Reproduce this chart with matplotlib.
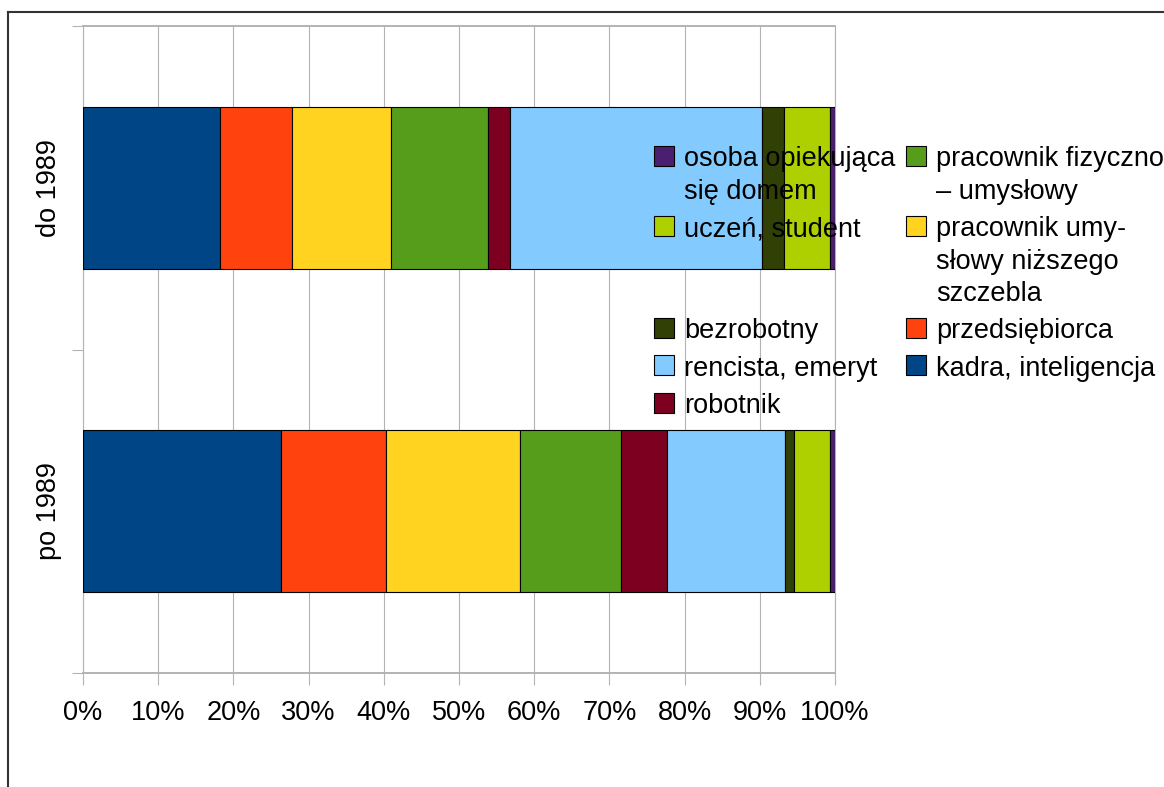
import matplotlib
matplotlib.use("Agg")
import matplotlib.pyplot as plt
from matplotlib.patches import Rectangle
from matplotlib.lines import Line2D
import numpy as np

plt.rcParams['font.family'] = ['Liberation Sans', 'DejaVu Sans']

# Respondent groups (bars) and occupational categories (stacked segments, in %)
groups = ["do 1989", "po 1989"]
series = [
    "kadra, inteligencja",
    "przedsiębiorca",
    "pracownik umy-\nsłowy niższego\nszczebla",
    "pracownik fizyczno\n– umysłowy",
    "robotnik",
    "rencista, emeryt",
    "bezrobotny",
    "uczeń, student",
    "osoba opiekująca\nsię domem",
]
values_do_1989 = [18.2, 9.6, 13.1, 13.0, 2.9, 33.5, 2.9, 6.2, 0.6]
values_po_1989 = [26.3, 14.0, 17.8, 13.4, 6.2, 15.6, 1.2, 4.9, 0.6]
colors = ["#004586", "#ff420e", "#ffd320", "#579d1c", "#7e0021",
          "#83caff", "#314004", "#aecf00", "#4b1f6f"]
x_ticks = np.arange(0, 101, 10)
x_tick_labels = [f"{t}%" for t in x_ticks]

W, H = 1164, 787
FS = 19.5
fig = plt.figure(figsize=(W / 100, H / 100), dpi=100)
fig.patch.set_facecolor("white")

ax = fig.add_axes([83 / W, (H - 673) / H, (835 - 83) / W, (673 - 26) / H])

data = np.array([values_do_1989, values_po_1989])
data = data / data.sum(axis=1, keepdims=True) * 100
ypos = np.arange(len(groups))
left = np.zeros(len(groups))
for i, (name, col) in enumerate(zip(series, colors)):
    ax.barh(ypos, data[:, i], left=left, height=0.5, color=col,
            edgecolor="black", linewidth=0.8, zorder=3)
    left += data[:, i]

grid_col = "#b3b3b3"
ax.set_xlim(0, 100)
ax.set_ylim(1.5, -0.5)
ax.set_xticks(x_ticks)
ax.set_xticklabels(x_tick_labels, fontsize=FS)
ax.xaxis.grid(True, color=grid_col, linewidth=0.8, zorder=0)
ax.tick_params(axis="x", length=8.6, width=0.8, color=grid_col, pad=11)

# category boundaries carry the ticks, centres carry the labels
ax.set_yticks([-0.5, 0.5, 1.5])
ax.set_yticklabels([])
ax.set_yticks(ypos, minor=True)
ax.set_yticklabels(groups, minor=True, rotation=90, va="center", fontsize=FS)
ax.tick_params(axis="y", which="major", length=8, width=0.8, color=grid_col)
ax.tick_params(axis="y", which="minor", length=0, pad=15)

ax.spines["left"].set_color(grid_col)
ax.spines["left"].set_linewidth(0.8)
for side in ["top", "bottom"]:
    ax.spines[side].set_color(grid_col)
    ax.spines[side].set_linewidth(1.4)
ax.spines["right"].set_color(grid_col)
ax.spines["right"].set_linewidth(0.8)
ax.set_axisbelow(True)

# page frame
fx = lambda px: px / W
fy = lambda py: 1 - py / H
fig.add_artist(Line2D([fx(8), fx(W)], [fy(12), fy(12)], color="#333333", lw=1.5))
fig.add_artist(Line2D([fx(8), fx(8)], [fy(12), fy(H)], color="#333333", lw=1.5))

# legend: reverse stacking order, filled down the columns, rows aligned
legend_order = list(range(len(series)))[::-1]
ncol = 2
nrows = int(np.ceil(len(legend_order) / ncol))
columns = [legend_order[c * nrows:(c + 1) * nrows] for c in range(ncol)]
col_marker_x = [654, 906]
col_text_x = [684, 936]
marker = 20
line_h = 32.3
row_base = 37.5
yc = 156
for r in range(nrows):
    row = [columns[c][r] if r < len(columns[c]) else None for c in range(ncol)]
    nlines = max(series[i].count("\n") + 1 for i in row if i is not None)
    for c, idx in enumerate(row):
        if idx is None:
            continue
        fig.add_artist(Rectangle((fx(col_marker_x[c]), fy(yc + marker / 2)),
                                 marker / W, marker / H, transform=fig.transFigure,
                                 facecolor=colors[idx], edgecolor="black", lw=0.8,
                                 zorder=5))
        for k, line in enumerate(series[idx].split("\n")):
            fig.text(fx(col_text_x[c]), fy(yc + 10.5 + k * line_h), line,
                     fontsize=FS, va="baseline", ha="left", zorder=6)
    yc += row_base + line_h * (nlines - 1)

fig.savefig("out.png", dpi=100)
